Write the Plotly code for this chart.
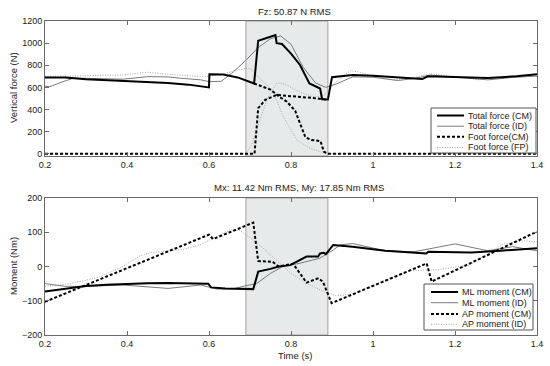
import plotly.graph_objects as go

# ---------------- data: vertical force (N) ----------------
t_total_cm = [0.2, 0.25, 0.3, 0.35, 0.4, 0.45, 0.5, 0.55, 0.6, 0.601, 0.635, 0.67, 0.71, 0.72, 0.75, 0.762,
              0.765, 0.778, 0.80, 0.822, 0.845, 0.871, 0.876, 0.89, 0.90, 0.95, 1.0, 1.07, 1.12, 1.134,
              1.2, 1.28, 1.35, 1.4]
v_total_cm = [690, 690, 673, 665, 660, 652, 640, 625, 600, 718, 716, 690, 635, 1022, 1058, 1073,
              1000, 992, 905, 803, 635, 590, 493, 490, 692, 713, 705, 685, 675, 700,
              695, 685, 700, 718]

t_total_id = [0.2, 0.212, 0.25, 0.27, 0.3, 0.35, 0.39, 0.45, 0.5, 0.53, 0.58, 0.6, 0.63, 0.66, 0.69, 0.72,
              0.75, 0.775, 0.80, 0.83, 0.86, 0.885, 0.91, 0.95, 1.0, 1.06, 1.1, 1.14, 1.2, 1.28, 1.34, 1.4]
v_total_id = [610, 607, 660, 683, 682, 678, 674, 697, 695, 683, 668, 652, 655, 742, 845, 960,
              1040, 1065, 990, 780, 640, 600, 630, 695, 692, 662, 680, 712, 692, 668, 690, 702]

t_foot1_cm = [0.71, 0.75, 0.77, 0.79, 0.81, 0.825, 0.835, 0.85, 0.872, 0.88, 0.89, 1.4]
v_foot1_cm = [635, 580, 520, 470, 390, 250, 150, 125, 115, 20, 0, 0]
t_foot2_cm = [0.2, 0.711, 0.72, 0.737, 0.765, 0.8, 0.85, 0.888]
v_foot2_cm = [0, 0, 412, 487, 532, 523, 505, 490]

t_foot1_fp = [0.2, 0.27, 0.33, 0.39, 0.45, 0.51, 0.58, 0.63, 0.66, 0.69, 0.70, 0.724, 0.757, 0.781,
              0.814, 0.846, 0.88, 0.9, 1.4]
v_foot1_fp = [698, 705, 708, 713, 737, 715, 698, 712, 750, 772, 770, 683, 560, 337,
              126, 50, 8, 0, 0]
t_foot2_fp = [0.2, 0.69, 0.705, 0.716, 0.741, 0.765, 0.775, 0.79, 0.82, 0.85, 0.875, 0.89, 0.91, 0.945,
              0.97, 1.0, 1.05, 1.1, 1.14, 1.2, 1.26, 1.33, 1.4]
v_foot2_fp = [0, 0, 90, 216, 487, 638, 640, 620, 560, 520, 515, 560, 650, 752,
              735, 700, 668, 690, 722, 700, 668, 705, 715]

# ---------------- data: moments (Nm) ----------------
t_ml_cm = [0.2, 0.25, 0.3, 0.35, 0.4, 0.45, 0.5, 0.55, 0.598, 0.605, 0.64, 0.708, 0.72, 0.75, 0.77,
           0.798, 0.814, 0.838, 0.866, 0.871, 0.88, 0.885, 0.903, 0.95, 1.03, 1.13, 1.135, 1.24, 1.31, 1.4]
v_ml_cm = [-73, -64, -57, -53, -50, -49, -48, -48, -50, -61, -64, -66, -15, -7, 0,
           4, 14, 29, 29, 38, 40, 36, 63, 58, 46, 38, 43, 41, 46, 53]

t_ml_id = [0.2, 0.25, 0.3, 0.39, 0.5, 0.58, 0.62, 0.66, 0.69, 0.716, 0.75, 0.78, 0.82, 0.87, 0.903,
           0.92, 0.95, 1.0, 1.03, 1.1, 1.2, 1.28, 1.34, 1.4]
v_ml_id = [-50, -58, -58, -54, -64, -54, -66, -65, -56, -50, -20, 0, 9, 24, 48,
           63, 67, 55, 46, 43, 66, 46, 58, 46]

t_ap_cm = [0.2, 0.6, 0.61, 0.708, 0.72, 0.755, 0.77, 0.805, 0.838, 0.867, 0.878, 0.899, 1.131, 1.143, 1.4]
v_ap_cm = [-103, 93, 80, 128, 16, 14, 0, 8, -47, -34, -45, -107, 9, -44, 102]

t_ap_id = [0.2, 0.25, 0.3, 0.334, 0.39, 0.43, 0.456, 0.5, 0.537, 0.578, 0.6, 0.651, 0.675, 0.692, 0.712,
           0.749, 0.78, 0.798, 0.838, 0.878, 0.911, 0.952, 1.033, 1.09, 1.155, 1.237, 1.318, 1.366, 1.4]
v_ap_id = [-58, -52, -40, -30, 0, 30, 40, 46, 50, 63, 77, 107, 105, 92, 75,
           35, 0, -18, -49, -72, -86, -80, -39, -12, -10, 5, 66, 75, 72]

force_legend = ["Total force (CM)", "Total force (ID)", "Foot force(CM)", "Foot force (FP)"]
moment_legend = ["ML moment (CM)", "ML moment (ID)", "AP moment (CM)", "AP moment (ID)"]
x_ticks = [0.2, 0.4, 0.6, 0.8, 1.0, 1.2, 1.4]
x_tick_labels = ["0.2", "0.4", "0.6", "0.8", "1", "1.2", "1.4"]
fz_ticks = [0, 200, 400, 600, 800, 1000, 1200]
m_ticks = [-200, -100, 0, 100, 200]
stance = [0.69, 0.89]

# ---------------- styles ----------------
W, H = 550, 366
FONT = "Liberation Sans, Arial, sans-serif"
S_CM = dict(color="black", width=2)
S_ID = dict(color="#7a7a7a", width=1)
S_FCM = dict(color="black", width=2, dash="3px,2px")
S_FP = dict(color="#a8a8a8", width=1, dash="1px,1.5px")
styles = [S_CM, S_ID, S_FCM, S_FP]

def px(x):
    return x / W

def py(y):
    return 1 - y / H

fig = go.Figure()

def add(t, v, style, ax):
    fig.add_trace(go.Scatter(x=t, y=v, mode="lines", line=style, showlegend=False,
                             xaxis="x" + ax, yaxis="y" + ax, hoverinfo="skip"))

# top panel
add(t_foot1_fp, v_foot1_fp, S_FP, "")
add(t_foot2_fp, v_foot2_fp, S_FP, "")
add(t_total_id, v_total_id, S_ID, "")
add(t_foot1_cm, v_foot1_cm, S_FCM, "")
add(t_foot2_cm, v_foot2_cm, S_FCM, "")
add(t_total_cm, v_total_cm, S_CM, "")
# bottom panel
add(t_ap_id, v_ap_id, S_FP, "2")
add(t_ml_id, v_ml_id, S_ID, "2")
add(t_ap_cm, v_ap_cm, S_FCM, "2")
add(t_ml_cm, v_ml_cm, S_CM, "2")

axis_common = dict(showline=True, linecolor="#6a6a6a", linewidth=1, mirror="ticks", ticks="inside",
                   ticklen=4, tickcolor="#6a6a6a", showgrid=False, zeroline=False, automargin=False,
                   tickfont=dict(family=FONT, size=9, color="#222"))

x_dom = [px(45), px(537)]
top_dom = [py(156), py(21)]
bot_dom = [py(335), py(198)]

fig.update_layout(
    template="none",
    width=W, height=H, margin=dict(l=0, r=0, t=0, b=0, pad=0),
    paper_bgcolor="white", plot_bgcolor="white",
    xaxis=dict(domain=x_dom, range=[0.2, 1.4], tickvals=x_ticks, ticktext=x_tick_labels,
               anchor="y", **axis_common),
    yaxis=dict(domain=top_dom, range=[-20, 1200], tickvals=fz_ticks, anchor="x", **axis_common),
    xaxis2=dict(domain=x_dom, range=[0.2, 1.4], tickvals=x_ticks, ticktext=x_tick_labels,
                anchor="y2", **axis_common),
    yaxis2=dict(domain=bot_dom, range=[-200, 200], tickvals=m_ticks, anchor="x2", **axis_common),
)

shapes = []
for ax in ["", "2"]:
    shapes.append(dict(type="rect", xref="x" + ax, yref="y" + ax + " domain", x0=stance[0], x1=stance[1],
                       y0=0, y1=1, fillcolor="#e7eaea", line=dict(color="#a0a0a0", width=1), layer="below"))

def label(text, x, y, angle=0, size=9.5):
    return dict(text=text, x=px(x), y=py(y), xref="paper", yref="paper", showarrow=False,
                xanchor="center", yanchor="middle", textangle=angle,
                font=dict(family=FONT, size=size, color="#222"))

annotations = [
    label("Fz: 50.87 N RMS", 294, 11),
    label("Mx: 11.42 Nm RMS, My: 17.85 Nm RMS", 299, 187),
    label("Time (s)", 295, 355),
    label("Vertical force (N)", 13, 88, -90),
    label("Moment (Nm)", 13, 266, -90),
]

def legend(box, line_x, text_x, rows, labels):
    shapes.append(dict(type="rect", xref="paper", yref="paper", x0=px(box[0]), x1=px(box[1]),
                       y0=py(box[3]), y1=py(box[2]), fillcolor="white",
                       line=dict(color="#555", width=1), layer="above"))
    for r, lab, st in zip(rows, labels, styles):
        shapes.append(dict(type="line", xref="paper", yref="paper", x0=px(line_x[0]), x1=px(line_x[1]),
                           y0=py(r), y1=py(r), line=st, layer="above"))
        annotations.append(dict(text=lab, x=px(text_x), y=py(r), xref="paper", yref="paper",
                                xanchor="left", yanchor="middle", showarrow=False,
                                font=dict(family=FONT, size=9, color="#222")))

legend([431, 536, 108, 153], [437, 464], 466, [115.5, 126.2, 136.8, 147.5], force_legend)
legend([424, 533, 284, 330], [431, 458], 460, [292, 302.7, 314, 324.3], moment_legend)

fig.update_layout(shapes=shapes, annotations=annotations)
fig.write_html("out.html", config={"displayModeBar": False},
               post_script="document.body.style.margin='0';document.body.style.padding='0';")
